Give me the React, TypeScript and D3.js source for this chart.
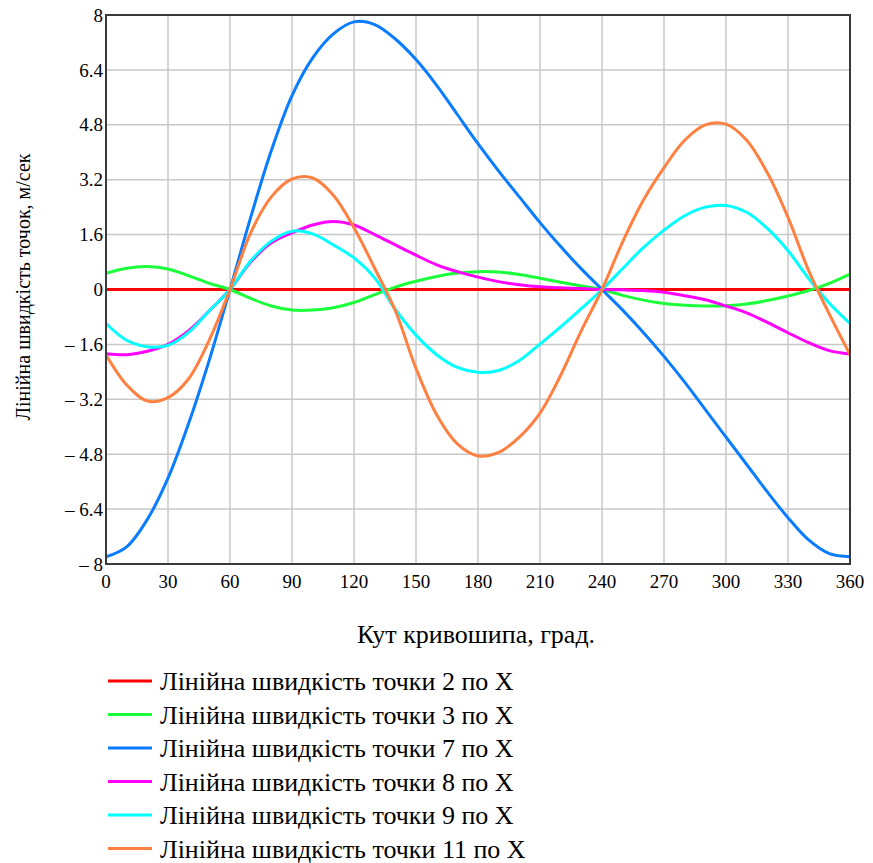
import React from "react";
import * as d3 from "d3";

const angles = d3.range(0, 361, 10);

const seriesNames = [
  "Лінійна швидкість точки 2 по X",
  "Лінійна швидкість точки 3 по X",
  "Лінійна швидкість точки 7 по X",
  "Лінійна швидкість точки 8 по X",
  "Лінійна швидкість точки 9 по X",
  "Лінійна швидкість точки 11 по X",
];

const seriesColors = ["#ff0000", "#1aff3a", "#0a7cff", "#ff00ff", "#00ffff", "#ff8040"];

const v2 = [0, 0, 0, 0, 0, 0, 0, 0, 0, 0, 0, 0, 0, 0, 0, 0, 0, 0, 0, 0, 0, 0, 0, 0, 0, 0, 0, 0, 0, 0, 0, 0, 0, 0, 0, 0, 0];
const v3 = [0.47, 0.62, 0.67, 0.6, 0.4, 0.18, 0, -0.26, -0.48, -0.6, -0.6, -0.53, -0.38, -0.15, 0.07, 0.24, 0.38, 0.48, 0.52, 0.51, 0.44, 0.33, 0.21, 0.1, 0, -0.17, -0.31, -0.41, -0.46, -0.48, -0.47, -0.42, -0.32, -0.19, -0.03, 0.18, 0.45];
const v7 = [-7.79, -7.5, -6.7, -5.5, -3.9, -2.05, 0, 2.1, 4.05, 5.65, 6.75, 7.45, 7.8, 7.72, 7.3, 6.7, 5.95, 5.1, 4.25, 3.45, 2.7, 1.95, 1.25, 0.6, 0, -0.6, -1.25, -1.95, -2.7, -3.5, -4.3, -5.1, -5.9, -6.65, -7.3, -7.7, -7.79];
const v8 = [-1.87, -1.9, -1.8, -1.6, -1.2, -0.62, 0, 0.8, 1.36, 1.65, 1.88, 1.98, 1.88, 1.6, 1.3, 1.0, 0.72, 0.52, 0.36, 0.23, 0.14, 0.08, 0.05, 0.03, 0, -0.01, -0.03, -0.08, -0.18, -0.3, -0.48, -0.68, -0.96, -1.26, -1.55, -1.78, -1.88];
const v9 = [-0.99, -1.48, -1.67, -1.63, -1.25, -0.62, 0, 0.83, 1.41, 1.7, 1.62, 1.3, 0.92, 0.34, -0.58, -1.33, -1.9, -2.27, -2.41, -2.36, -2.07, -1.59, -1.09, -0.56, 0, 0.61, 1.22, 1.73, 2.15, 2.4, 2.45, 2.25, 1.78, 1.13, 0.32, -0.4, -0.99];
const v11 = [-1.9, -2.78, -3.25, -3.15, -2.6, -1.47, 0, 1.65, 2.7, 3.22, 3.25, 2.75, 1.8, 0.62, -0.62, -2.3, -3.65, -4.5, -4.85, -4.75, -4.3, -3.6, -2.5, -1.2, 0, 1.39, 2.6, 3.55, 4.35, 4.8, 4.82, 4.35, 3.4, 2.1, 0.55, -0.72, -1.9];

const seriesValues = [v2, v3, v7, v8, v9, v11];

const xTicks = d3.range(0, 361, 30);
const yTicks = [-8, -6.4, -4.8, -3.2, -1.6, 0, 1.6, 3.2, 4.8, 6.4, 8];

const xTitle = "Кут кривошипа, град.";
const yTitle = "Лінійна швидкість точок, м/сек";

const FONT = "'Liberation Serif', Tinos, 'Times New Roman', 'DejaVu Serif', serif";

export default function App() {
  const left = 106, right = 850, top = 15, bottom = 564;
  const x = d3.scaleLinear().domain([0, 360]).range([left, right]);
  const y = d3.scaleLinear().domain([-8, 8]).range([bottom, top]);
  const line = d3
    .line<number>()
    .x((_, i) => x(angles[i]))
    .y((d) => y(d))
    .curve(d3.curveCatmullRom.alpha(0.5));

  const fmt = (t: number) => {
    if (t < 0) return "\u2013 " + String(Math.abs(t));
    return String(t);
  };

  const ts = { fontFamily: FONT };

  return (
    <svg
      width={873}
      height={863}
      style={{ position: "absolute", left: 0, top: 0, background: "#fff" }}
    >
      <rect x={0} y={0} width={873} height={863} fill="#fff" />
      {xTicks.map((t) => (
        <line key={"gx" + t} x1={x(t)} x2={x(t)} y1={top} y2={bottom} stroke="#c8c8c8" strokeWidth={1.5} />
      ))}
      {yTicks.map((t) => (
        <line key={"gy" + t} x1={left} x2={right} y1={y(t)} y2={y(t)} stroke="#c8c8c8" strokeWidth={1.5} />
      ))}
      <defs>
        <clipPath id="plotclip">
          <rect x={left} y={top - 2} width={right - left} height={bottom - top + 4} />
        </clipPath>
      </defs>
      <g clipPath="url(#plotclip)">
        {seriesValues.map((vals, i) => (
          <path key={i} d={line(vals) || ""} fill="none" stroke={seriesColors[i]} strokeWidth={3} strokeLinejoin="round" />
        ))}
      </g>
      <rect x={left} y={top} width={right - left} height={bottom - top} fill="none" stroke="#3a3a3a" strokeWidth={2} />
      {yTicks.map((t) => (
        <text key={"ty" + t} x={left - 3} y={y(t)} dy="0.35em" textAnchor="end" fontSize={19} fill="#000" style={ts}>
          {fmt(t)}
        </text>
      ))}
      {xTicks.map((t) => (
        <text key={"tx" + t} x={x(t)} y={bottom + 24} textAnchor="middle" fontSize={19} fill="#000" style={ts}>
          {t}
        </text>
      ))}
      <text x={476} y={643} textAnchor="middle" fontSize={26} fill="#000" style={ts}>
        {xTitle}
      </text>
      <text
        transform={`translate(30, 287) rotate(-90)`}
        textAnchor="middle"
        fontSize={20}
        fill="#000"
        style={ts}
      >
        {yTitle}
      </text>
      {seriesNames.map((name, i) => {
        const ly = 681 + i * 33.5;
        return (
          <g key={"lg" + i}>
            <line x1={108} x2={152} y1={ly} y2={ly} stroke={seriesColors[i]} strokeWidth={3} />
            <text x={160} y={ly} dy="0.35em" fontSize={26} fill="#000" style={ts}>
              {name}
            </text>
          </g>
        );
      })}
    </svg>
  );
}
